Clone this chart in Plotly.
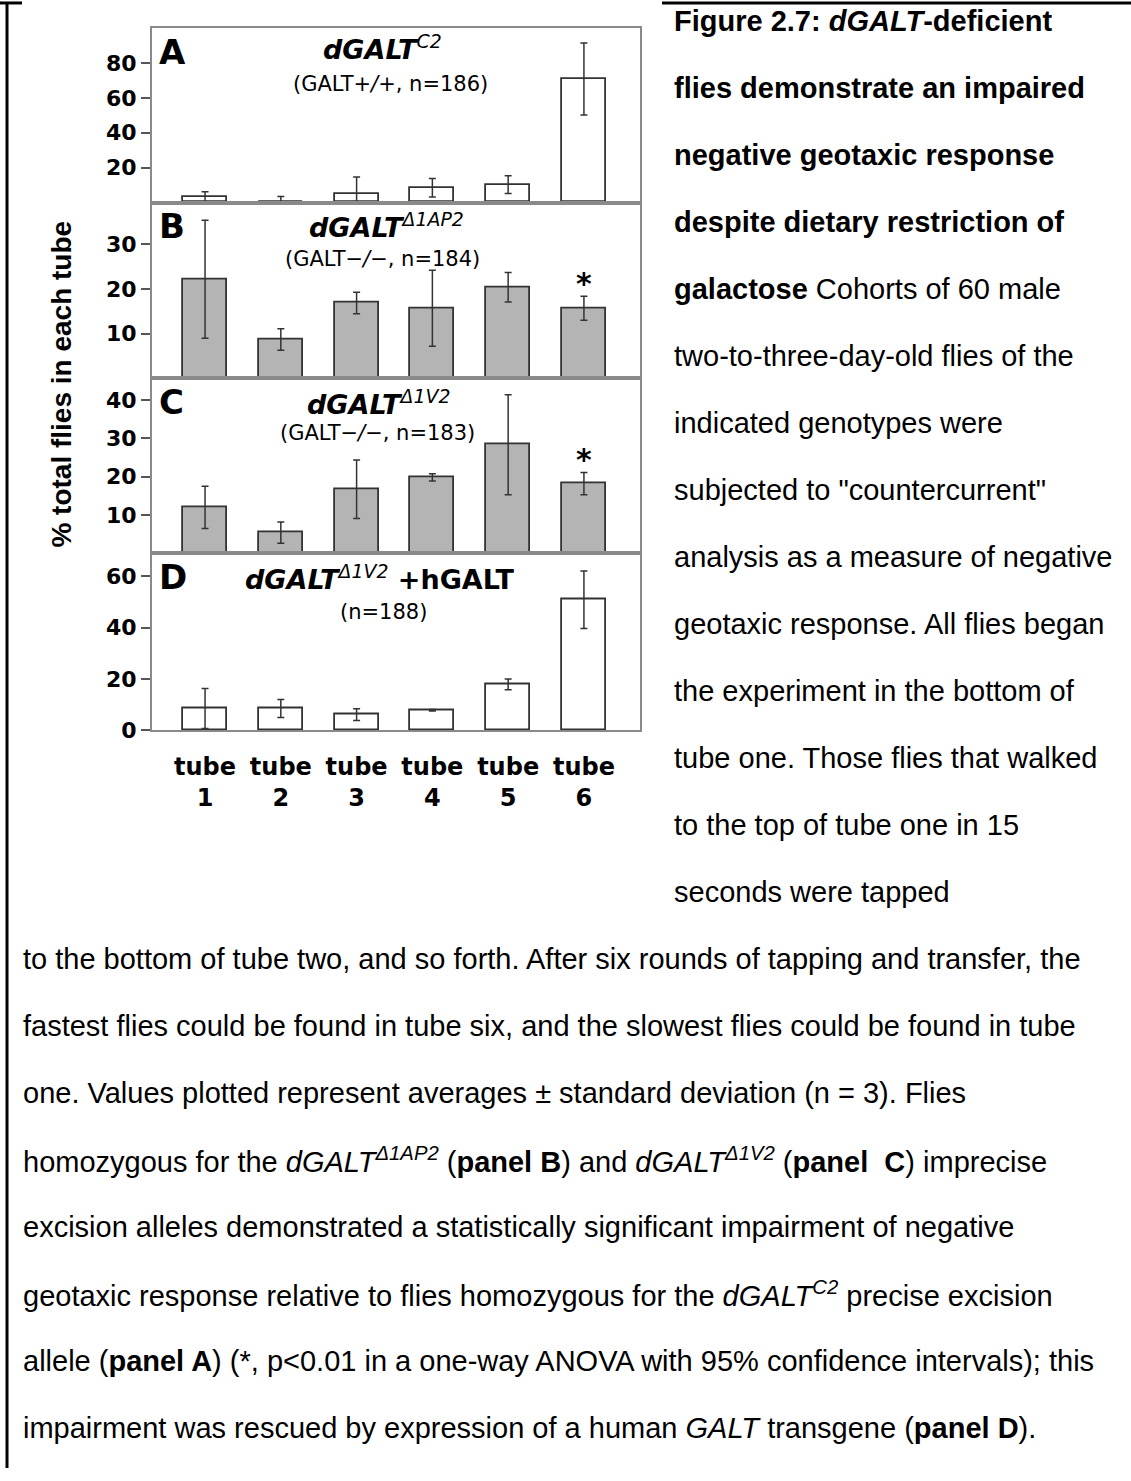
import plotly.graph_objects as go

W, H = 1131, 1481

# ---------------- data ----------------
tube_labels = ["tube<br>1", "tube<br>2", "tube<br>3", "tube<br>4", "tube<br>5", "tube<br>6"]
tube_pos = [0, 1, 2, 3, 4, 5]

a_mean = [3.2, 0.3, 5.1, 8.5, 10.2, 70.8]
a_sd = [2.9, 3.2, 9.5, 5.3, 5.1, 20.7]
b_mean = [22.2, 8.7, 16.9, 15.7, 20.4, 15.7]
b_sd = [13.2, 2.4, 2.4, 8.5, 3.3, 2.7]
c_mean = [12.0, 5.4, 16.7, 19.8, 28.3, 18.2]
c_sd = [5.5, 2.75, 7.6, 0.95, 13.0, 2.9]
d_mean = [8.5, 8.5, 6.1, 7.8, 17.9, 50.9]
d_sd = [7.8, 3.5, 2.3, 0.3, 2.1, 11.2]

a_ticks = [20, 40, 60, 80]
b_ticks = [10, 20, 30]
c_ticks = [10, 20, 30, 40]
d_ticks = [0, 20, 40, 60]

significant_tube = 5  # tube 6 marked with * in panels B and C

caption_right = [
    "<b>Figure 2.7: <i>dGALT</i>-deficient</b>",
    "<b>flies demonstrate an impaired</b>",
    "<b>negative geotaxic response</b>",
    "<b>despite dietary restriction of</b>",
    "<b>galactose</b> Cohorts of 60 male",
    "two-to-three-day-old flies of the",
    "indicated genotypes were",
    "subjected to \"countercurrent\"",
    "analysis as a measure of negative",
    "geotaxic response. All flies began",
    "the experiment in the bottom of",
    "tube one. Those flies that walked",
    "to the top of tube one in 15",
    "seconds were tapped",
]
caption_bottom = [
    "to the bottom of tube two, and so forth. After six rounds of tapping and transfer, the",
    "fastest flies could be found in tube six, and the slowest flies could be found in tube",
    "one. Values plotted represent averages \u00b1 standard deviation (n = 3). Flies",
    "homozygous for the <i>dGALT</i><sup><i>\u03941AP2</i></sup> (<b>panel B</b>) and "
    "<i>dGALT</i><sup><i>\u03941V2</i></sup> (<b>panel\u00a0 C</b>) imprecise",
    "excision alleles demonstrated a statistically significant impairment of negative",
    "geotaxic response relative to flies homozygous for the <i>dGALT</i><sup><i>C2</i></sup> precise excision",
    "allele (<b>panel A</b>) (*, p&lt;0.01 in a one-way ANOVA with 95% confidence intervals); this",
    "impairment was rescued by expression of a human <i>GALT</i> transgene (<b>panel D</b>).",
]

# ---------------- layout helpers ----------------
def px_x(x):
    return x / W

def px_y(y):
    return 1 - y / H

CHART_FONT = "DejaVu Sans"
TEXT_FONT = "Liberation Sans, Arial, sans-serif"
BOX = "#8a8a8a"
EDGE = "#333333"

panels = [
    dict(key="A", mean=a_mean, sd=a_sd, ticks=a_ticks, top=28.3, bot=204.3, rng=[0, 100],
         fill="white",
         title="<b><i>dGALT</i></b><i><sup>C2</sup></i>", tpos=(382, 48),
         sub="(GALT+<i>/</i>+, n=186)", spos=(390, 85), star=False),
    dict(key="B", mean=b_mean, sd=b_sd, ticks=b_ticks, top=204.3, bot=381.7, rng=[0, 39.4],
         fill="#b4b4b4",
         title="<b><i>dGALT</i></b><i><sup>\u03941AP2</sup></i>", tpos=(386, 228),
         sub="(GALT\u2212<i>/</i>\u2212, n=184)", spos=(382, 261), star=True),
    dict(key="C", mean=c_mean, sd=c_sd, ticks=c_ticks, top=381.7, bot=558.3, rng=[0, 45.6],
         fill="#b4b4b4",
         title="<b><i>dGALT</i></b><i><sup>\u03941V2</sup></i>", tpos=(378, 406),
         sub="(GALT\u2212<i>/</i>\u2212, n=183)", spos=(377, 437), star=True),
    dict(key="D", mean=d_mean, sd=d_sd, ticks=d_ticks, top=558.3, bot=736.7, rng=[0, 69],
         fill="white",
         title="<b><i>dGALT</i></b><i><sup>\u03941V2</sup></i><b> +hGALT</b>", tpos=(380, 583),
         sub="(n=188)", spos=(383, 617), star=False),
]

X0, X1 = 152, 640

fig = go.Figure()
annotations = []
layout = {}

for i, p in enumerate(panels, start=1):
    xa = "x" if i == 1 else f"x{i}"
    ya = "y" if i == 1 else f"y{i}"
    lower = [min(s, m) for s, m in zip(p["sd"], p["mean"])]
    fig.add_trace(go.Bar(
        x=tube_pos, y=p["mean"], xaxis=xa, yaxis=ya, width=0.58,
        marker=dict(color=p["fill"], line=dict(color=EDGE, width=1.8)),
        error_y=dict(type="data", symmetric=False, array=p["sd"], arrayminus=lower,
                     color=EDGE, thickness=1.5, width=3.5),
        showlegend=False, hoverinfo="skip",
    ))
    last = (i == 4)
    layout["xaxis" if i == 1 else f"xaxis{i}"] = dict(
        domain=[px_x(X0), px_x(X1)], anchor=ya, range=[-0.70, 5.74],
        showline=True, mirror=True, linecolor=BOX, linewidth=2,
        showgrid=False, zeroline=False, ticks="",
        tickvals=tube_pos, ticktext=tube_labels, showticklabels=last,
        ticklabelstandoff=14,
        tickfont=dict(family=CHART_FONT, size=24, color="black", weight="bold"),
    )
    layout["yaxis" if i == 1 else f"yaxis{i}"] = dict(
        domain=[px_y(p["bot"]), px_y(p["top"])], anchor=xa, range=p["rng"],
        showline=True, mirror=True, linecolor=BOX, linewidth=2,
        showgrid=False, zeroline=False,
        tickvals=p["ticks"], ticks="outside", ticklen=9, tickwidth=2, tickcolor="#555",
        tickfont=dict(family=CHART_FONT, size=22, color="black", weight="bold"),
    )
    # panel letter
    annotations.append(dict(
        xref="paper", yref="paper", x=px_x(157), y=px_y(p["top"] + 24),
        xanchor="left", yanchor="middle", showarrow=False,
        text=f"<b>{p['key']}</b>", font=dict(family=CHART_FONT, size=34, color="black")))
    annotations.append(dict(
        xref="paper", yref="paper", x=px_x(p["tpos"][0]), y=px_y(p["tpos"][1]),
        xanchor="center", yanchor="middle", showarrow=False,
        text=p["title"], font=dict(family=CHART_FONT, size=27, color="black")))
    annotations.append(dict(
        xref="paper", yref="paper", x=px_x(p["spos"][0]), y=px_y(p["spos"][1]),
        xanchor="center", yanchor="middle", showarrow=False,
        text=p["sub"], font=dict(family=CHART_FONT, size=21, color="black")))
    if p["star"]:
        k = significant_tube
        annotations.append(dict(
            xref=xa, yref=ya, x=tube_pos[k], y=p["mean"][k] + p["sd"][k],
            yshift=13, xanchor="center", yanchor="middle", showarrow=False,
            text="<b>*</b>", font=dict(family=CHART_FONT, size=30, color="black")))

# y axis title
annotations.append(dict(
    xref="paper", yref="paper", x=px_x(62), y=px_y(388),
    xanchor="center", yanchor="middle", showarrow=False, textangle=-90,
    text="<b>% total flies in each tube</b>",
    font=dict(family=TEXT_FONT, size=28, color="black")))

# caption text
LINE0, STEP = 21.5, 67.6
for k, line in enumerate(caption_right):
    annotations.append(dict(
        xref="paper", yref="paper", x=px_x(672), y=px_y(LINE0 + STEP * k),
        xanchor="left", yanchor="middle", showarrow=False, align="left",
        text=line, font=dict(family=TEXT_FONT, size=29, color="black")))
for k, line in enumerate(caption_bottom):
    annotations.append(dict(
        xref="paper", yref="paper", x=px_x(21), y=px_y(LINE0 + STEP * (k + len(caption_right))),
        xanchor="left", yanchor="middle", showarrow=False, align="left",
        text=line, font=dict(family=TEXT_FONT, size=29, color="black")))

shapes = [
    dict(type="line", xref="paper", yref="paper", x0=0, x1=px_x(22), y0=px_y(3), y1=px_y(3),
         line=dict(color="black", width=3)),
    dict(type="line", xref="paper", yref="paper", x0=px_x(662), x1=1, y0=px_y(3), y1=px_y(3),
         line=dict(color="black", width=3)),
    dict(type="line", xref="paper", yref="paper", x0=px_x(7), x1=px_x(7), y0=px_y(2), y1=0,
         line=dict(color="black", width=3)),
]

fig.update_layout(
    width=W, height=H, margin=dict(l=0, r=0, t=0, b=0),
    paper_bgcolor="white", plot_bgcolor="white",
    annotations=annotations, shapes=shapes, bargap=0, **layout,
)

fig.write_html("out.html")
